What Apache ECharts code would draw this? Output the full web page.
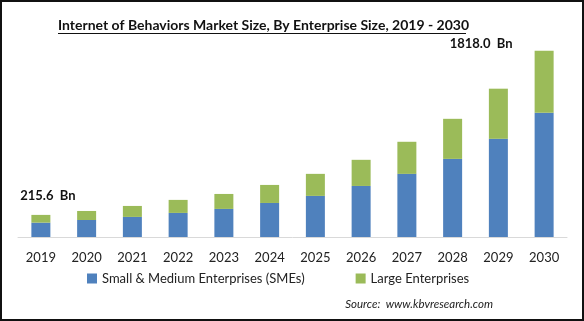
<!DOCTYPE html>
<html><head><meta charset="utf-8">
<script src="https://cdn.jsdelivr.net/npm/echarts@6/dist/echarts.min.js"></script>
<style>
html,body{margin:0;padding:0;background:#fff;}
#wrap{position:absolute;left:0;top:0;width:584px;height:321px;box-sizing:border-box;border:2px solid #111;}
#c{position:absolute;left:0;top:0;width:584px;height:321px;}
</style></head>
<body><div id="c"></div><div id="wrap"></div>
<script>
const years = ['2019','2020','2021','2022','2023','2024','2025','2026','2027','2028','2029','2030'];
const smeValues = [140, 166, 196, 235, 274, 332, 401, 498, 616, 762, 958, 1212];
const largeValues = [75.6, 88, 107, 127, 146, 176, 215, 255, 313, 391, 489, 606];
const totalLabels = ['215.6  Bn', '', '', '', '', '', '', '', '', '', '', '1818.0  Bn'];

const chart = echarts.init(document.getElementById('c'), null, {renderer:'canvas'});
const font = 'Lato, "Open Sans", sans-serif';
const largeData = largeValues.map((v, i) => {
  const item = {value: v};
  if (totalLabels[i]) {
    item.label = {show: true, formatter: totalLabels[i], position: 'top',
      offset: i === 0 ? [7, -8] : [-63, 5]};
  }
  return item;
});
chart.setOption({
  animation: false,
  title: {
    text: 'Internet of Behaviors Market Size, By Enterprise Size, 2019 - 2030',
    left: 53, top: 13,
    textStyle: {fontFamily: font, fontSize: 14, fontWeight: 'bold', color: '#111'}
  },
  graphic: [{
    type: 'line', shape: {x1: 58, y1: 33.5, x2: 466, y2: 33.5},
    style: {stroke: '#111', lineWidth: 1}
  }, {
    type: 'text', right: 91, top: 298,
    style: {text: 'Source:  www.kbvresearch.com', font: 'italic 11.5px ' + font, fill: '#222'}
  }],
  legend: {
    bottom: 31, left: 82, itemGap: 51, itemWidth: 10, itemHeight: 10,
    icon: 'rect',
    textStyle: {fontFamily: font, fontSize: 13, color: '#222'},
    data: ['Small & Medium Enterprises (SMEs)', 'Large Enterprises']
  },
  grid: {left: 18, right: 17, top: 32, bottom: 84, containLabel: false},
  xAxis: {
    type: 'category', data: years,
    axisLine: {lineStyle: {color: '#d9d9d9'}},
    axisTick: {show: false},
    axisLabel: {fontFamily: font, fontSize: 13, color: '#222', margin: 14}
  },
  yAxis: {type: 'value', min: 0, max: 2000, show: false, splitLine: {show: false}},
  series: [{
    name: 'Small & Medium Enterprises (SMEs)', type: 'bar', stack: 't',
    data: smeValues, barWidth: 19, itemStyle: {color: '#4F81BD'}
  }, {
    name: 'Large Enterprises', type: 'bar', stack: 't',
    data: largeData, barWidth: 19, itemStyle: {color: '#9BBB59'},
    label: {show: false, fontFamily: font, fontSize: 13, fontWeight: 'bold', color: '#111'}
  }]
});
</script></body></html>
